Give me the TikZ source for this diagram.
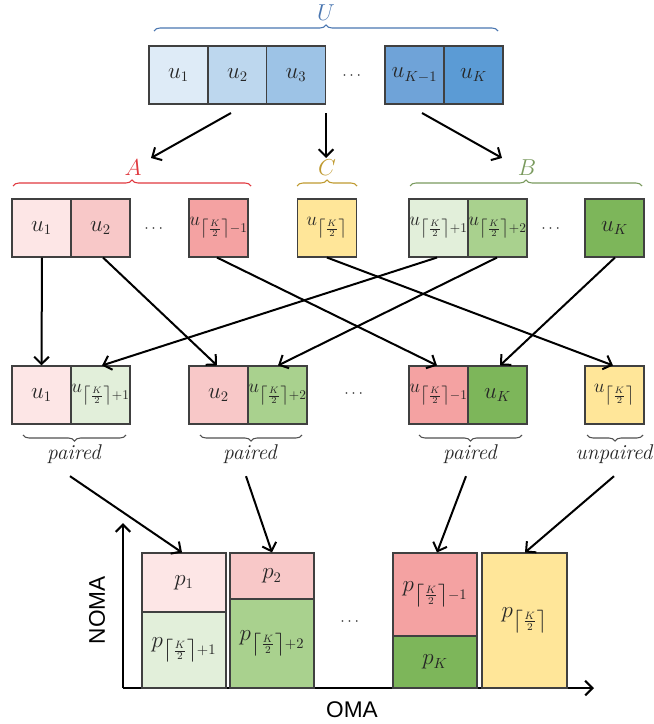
\documentclass[tikz,border=0pt]{standalone}
\usepackage{fontspec}
\usepackage{amsmath}
\setsansfont{Liberation Sans}
\usetikzlibrary{arrows.meta,decorations.pathreplacing,calc}
\definecolor{blueA}{HTML}{DEEBF7}
\definecolor{blueB}{HTML}{BDD7EE}
\definecolor{blueC}{HTML}{9DC3E6}
\definecolor{blueD}{HTML}{6FA3D8}
\definecolor{blueE}{HTML}{5B9BD5}
\definecolor{pinkA}{HTML}{FDE6E6}
\definecolor{pinkB}{HTML}{F8C8C8}
\definecolor{pinkC}{HTML}{F4A2A2}
\definecolor{yel}{HTML}{FFE699}
\definecolor{greenA}{HTML}{E2EFDA}
\definecolor{greenB}{HTML}{A9D18E}
\definecolor{greenC}{HTML}{7DB65A}
\definecolor{cellborder}{HTML}{404040}
\definecolor{celltext}{HTML}{262626}
\definecolor{braceU}{HTML}{4A76B0}
\definecolor{braceA}{HTML}{E0393F}
\definecolor{braceC}{HTML}{BF9A30}
\definecolor{braceB}{HTML}{7A9A5E}
\definecolor{braceP}{HTML}{505050}
\tikzset{
  cell/.style={draw=cellborder, line width=0.8pt, minimum width=44.25pt, minimum height=43.5pt,
    inner sep=0pt, font=\fontsize{16}{18}\selectfont, text=celltext},
  longtxt/.style={font=\fontsize{14.5}{17}\selectfont},
  bar/.style={draw=cellborder, line width=0.8pt, minimum width=63pt, inner sep=0pt,
    font=\fontsize{16}{18}\selectfont, text=celltext},
  conn/.style={line width=1.5pt, -{Straight Barb[length=5.5pt,width=11pt]}},
  axis/.style={line width=1.6pt, -{Straight Barb[length=5.5pt,width=11pt]}},
  brace/.style={decorate, decoration={brace, amplitude=4.5pt}, line width=0.8pt},
  grp/.style={font=\fontsize{16}{18}\selectfont},
  plab/.style={font=\fontsize{16}{18}\selectfont\itshape, text=celltext},
  dotsl/.style={font=\fontsize{12}{14}\selectfont, text=celltext},
}
\newcommand{\ck}{\left\lceil\frac{K}{2}\right\rceil}
\newcommand{\zw}[1]{\makebox[0pt]{#1}}
\begin{document}
\begin{tikzpicture}[x=0.75pt,y=-0.75pt]
\useasboundingbox (0,0) rectangle (653,724);

% top row
\node[cell, fill=blueA] (t1) at (178.5,75) {$u_1$};
\node[cell, fill=blueB] (t2) at (237.5,75) {$u_2$};
\node[cell, fill=blueC] (t3) at (296,75) {$u_3$};
\node[dotsl] (tdots) at (353,76) {$\cdots$};
\node[cell, fill=blueD] (t4) at (414.5,75) {$u_{K-1}$};
\node[cell, fill=blueE] (t5) at (473.5,75) {$u_K$};
\draw[brace, braceU] (154,31) -- (498,31);
\node[grp, text=braceU] (labU) at (326,13) {$U$};

% arrows from top row
\coordinate (sa) at (231,113);
\coordinate (ea) at (151,158);
\coordinate (sc) at (326,113);
\coordinate (ec) at (326,158);
\coordinate (sb) at (422,113);
\coordinate (eb) at (502,158);
\draw[conn] (sa) -- (ea);
\draw[conn] (sc) -- (ec);
\draw[conn] (sb) -- (eb);

% second row
\node[cell, fill=pinkA] (a1) at (41.5,228) {$u_1$};
\node[cell, fill=pinkB] (a2) at (100.5,228) {$u_2$};
\node[dotsl] (adots) at (155,229) {$\cdots$};
\node[cell, longtxt, fill=pinkC] (a3) at (218.5,228) {\zw{$u_{\ck-1}$}};
\node[cell, longtxt, fill=yel] (c1) at (327,228) {$u_{\ck}$};
\node[cell, longtxt, fill=greenA] (b1) at (438.5,228) {\zw{$u_{\ck+1}$}};
\node[cell, longtxt, fill=greenB] (b2) at (497.5,228) {\zw{$u_{\ck+2}$}};
\node[dotsl] (bdots) at (552,229) {$\cdots$};
\node[cell, fill=greenC] (b3) at (614.5,228) {$u_K$};
\draw[brace, braceA] (13,186) -- (251,186);
\draw[brace, braceC] (297,186) -- (357,186);
\draw[brace, braceB] (410,186) -- (642,186);
\node[grp, text=braceA] (labA) at (133,168) {$A$};
\node[grp, text=braceC] (labC) at (327,168) {$C$};
\node[grp, text=braceB] (labB) at (527,168) {$B$};

% third row
\node[cell, fill=pinkA] (r1a) at (41.5,395) {$u_1$};
\node[cell, longtxt, fill=greenA] (r1b) at (100.5,395) {\zw{$u_{\ck+1}$}};
\node[cell, fill=pinkB] (r2a) at (218.5,395) {$u_2$};
\node[cell, longtxt, fill=greenB] (r2b) at (277.5,395) {\zw{$u_{\ck+2}$}};
\node[dotsl] (rdots) at (355,394) {$\cdots$};
\node[cell, longtxt, fill=pinkC] (r3a) at (438.5,395) {\zw{$u_{\ck-1}$}};
\node[cell, fill=greenC] (r3b) at (497.5,395) {$u_K$};
\node[cell, longtxt, fill=yel] (r4) at (614.5,395) {$u_{\ck}$};

\draw[brace, braceP] (126,435) -- (23,435);
\draw[brace, braceP] (302,435) -- (200,435);
\draw[brace, braceP] (522,435) -- (419,435);
\draw[brace, braceP] (643,435) -- (587,435);
\node[plab] (pl1) at (74,454) {paired};
\node[plab] (pl2) at (250,454) {paired};
\node[plab] (pl3) at (470,454) {paired};
\node[plab] (pl4) at (614,454) {unpaired};

% row 2 -> row 3
\draw[conn] ($(a1.south)+(0.5,0)$) -- ($(r1a.north)+(0,0)$);
\draw[conn] ($(a2.south)+(2.5,0)$) -- ($(r2a.north)+(-1.5,0)$);
\draw[conn] ($(a3.south)+(-1.5,0)$) -- ($(r3a.north)+(-1.5,0)$);
\draw[conn] ($(c1.south)+(0,0)$) -- ($(r4.north)+(-1.5,0)$);
\draw[conn] ($(b1.south)+(-1.5,0)$) -- ($(r1b.north)+(1.5,0)$);
\draw[conn] ($(b2.south)+(-0.5,0)$) -- ($(r2b.north)+(0.5,0)$);
\draw[conn] ($(b3.south)+(0.5,0)$) -- ($(r3b.north)+(2.5,0)$);

% chart
\coordinate (orig) at (123,688);
\coordinate (ytop) at (123,523);
\coordinate (xend) at (594,688);
\draw[axis] (orig) -- (ytop);
\draw[axis] (orig) -- (xend);
\node[font=\sffamily\fontsize{17}{20}\selectfont, rotate=90] (noma) at (97,610) {NOMA};
\node[font=\sffamily\fontsize{17}{20}\selectfont] (oma) at (352,710) {OMA};

\node[bar, fill=pinkA, minimum height=44.25pt] (p1) at (184,582.5) {$p_1$};
\node[bar, fill=greenA, minimum height=57pt] (q1) at (184,650) {$p_{\ck+1}$};
\node[bar, fill=pinkB, minimum height=34.5pt] (p2) at (272,576) {$p_2$};
\node[bar, fill=greenB, minimum height=66.75pt] (q2) at (272,643.5) {$p_{\ck+2}$};
\node[dotsl] (cdots) at (351,622) {$\cdots$};
\node[bar, fill=pinkC, minimum height=62.25pt] (p3) at (435,594.5) {$p_{\ck-1}$};
\node[bar, fill=greenC, minimum height=39pt] (q3) at (435,662) {$p_K$};
\node[bar, fill=yel, minimum height=101.25pt, minimum width=63.75pt] (p4) at (524.5,620.5) {$p_{\ck}$};

% row 3 -> bars
\draw[conn] ($(pl1.south)+(-4,8)$) -- ($(p1.north)+(-2,0)$);
\draw[conn] ($(pl2.south)+(-4,8)$) -- ($(p2.north)+(0,0)$);
\draw[conn] ($(pl3.south)+(-4,8)$) -- ($(p3.north)+(2,0)$);
\draw[conn] ($(pl4.south)+(0,8)$) -- ($(p4.north)+(0.5,0)$);
\end{tikzpicture}
\end{document}
